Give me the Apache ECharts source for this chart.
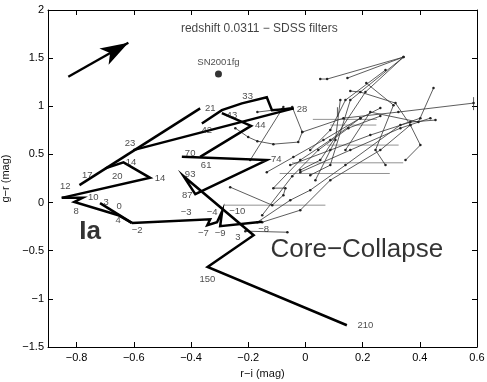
<!DOCTYPE html>
<html><head><meta charset="utf-8">
<script src="https://cdn.jsdelivr.net/npm/echarts@6/dist/echarts.min.js"></script>
<style>html,body{margin:0;padding:0;background:#fff}#c{width:487px;height:382px}</style>
</head><body><div id="c"></div>
<script>
// ---- axis ticks ----
const xTicks = [-0.8, -0.6, -0.4, -0.2, 0, 0.2, 0.4, 0.6];
const yTicks = [-1.5, -1, -0.5, 0, 0.5, 1, 1.5, 2];

// ---- Type Ia colour track pieces (r-i, g-r) ----
const iaPreMax = [[-0.607,-0.211],[-0.333,-0.173],[-0.343,-0.235],[-0.309,-0.204],[-0.291,-0.089],[-0.298,-0.245],[-0.151,-0.199]];
const iaEarly = [[-0.718,-0.006],[-0.607,-0.211]];
const iaZig = [[-0.852,0.049],[-0.779,0.049],[-0.808,0.007],[-0.654,-0.131],[-0.607,-0.211]];
const iaLoop = [[-0.852,0.049],[-0.543,0.257],[-0.636,0.417],[-0.700,0.355]];
const iaRise = [[-0.79,0.181],[-0.368,0.978]];
const iaRise2 = [[-0.602,0.545],[-0.041,0.978]];
const iaTop = [[-0.362,0.822],[-0.292,0.96],[-0.222,1.03],[-0.135,1.093],[-0.117,0.96],[-0.041,0.978]];
const iaMid = [[-0.292,0.93],[-0.19,0.797],[-0.368,0.475]];
const iaLate = [[-0.432,0.475],[-0.135,0.441],[-0.385,0.087],[-0.426,0.274],[-0.181,-0.339],[-0.342,-0.668],[0.145,-1.274]];

// ---- epoch labels on the Ia track ----
const epochText = ['12','17','20','14','14','23','21','10','3','0','8','4','\u22122','\u22123','\u22124','\u221210','\u22127','\u22129','3','\u22128','150','210','93','87','70','61','74','42','43','44','33','28'];
const epochX = [-0.84,-0.763,-0.658,-0.508,-0.61,-0.613,-0.333,-0.742,-0.697,-0.651,-0.802,-0.655,-0.588,-0.417,-0.326,-0.238,-0.357,-0.298,-0.236,-0.146,-0.343,0.21,-0.403,-0.413,-0.403,-0.347,-0.102,-0.345,-0.257,-0.158,-0.202,-0.012];
const epochY = [0.17,0.285,0.274,0.254,0.42,0.617,0.981,0.056,0.004,-0.037,-0.089,-0.183,-0.287,-0.1,-0.1,-0.089,-0.318,-0.318,-0.363,-0.277,-0.796,-1.274,0.295,0.077,0.514,0.389,0.451,0.753,0.909,0.805,1.099,0.968];

// ---- core-collapse tracks ----
const cc1 = [[0.052,1.283],[0.076,1.283],[0.343,1.511],[0.21,1.148],[0.052,0.441],[-0.018,0.337]];
const cc2 = [[0.147,1.293],[0.343,1.511],[0.157,1.064],[0.087,0.389],[0.017,0.285]];
const cc3 = [[0.157,1.158],[0.192,1.148],[0.315,1.033],[0.367,0.805],[0.402,0.597],[0.35,0.441]];
const cc4 = [[-0.245,0.773],[-0.2,0.68],[-0.168,0.638],[-0.112,0.607],[-0.025,0.628],[-0.011,0.732],[-0.046,0.992],[-0.081,0.971],[-0.168,0.94]];
const cc5 = [[-0.011,0.732],[0.133,0.877],[0.325,0.94],[0.588,1.033]];
const cc6 = [[-0.077,0.992],[-0.193,0.441]];
const cc7 = [[-0.135,0.316],[-0.042,0.472],[0.063,0.649],[0.192,0.877],[0.262,0.981]];
const cc8 = [[-0.263,0.16],[-0.116,-0.027],[-0.077,0.077],[-0.07,0.15],[-0.112,0.15],[-0.018,0.441],[0.087,0.649],[0.192,0.877]];
const cc9 = [[-0.168,-0.204],[-0.053,0.025],[0.017,0.129],[0.14,0.389],[0.332,0.805],[0.402,0.877]];
const cc10 = [[-0.151,-0.204],[-0.018,-0.079],[0.087,0.233],[0.262,0.545],[0.367,0.805]];
const cc11 = [[-0.21,-0.297],[-0.063,-0.308]];
const cc12 = [[0.122,1.064],[0.105,0.649],[0.035,0.233]];
const cc13 = [[0.213,1.241],[0.308,1.012],[0.245,0.545],[0.28,0.389]];
const cc14 = [[0.448,1.189],[0.395,0.836],[0.227,0.94],[0.14,0.545]];
const cc15 = [[-0.151,-0.131],[-0.046,0.274],[0.045,0.545],[0.15,0.773],[0.262,0.898]];
const cc16 = [[0.28,1.376],[0.14,1.064],[0.087,0.753],[0.017,0.545]];
const cc17 = [[-0.053,0.389],[0.087,0.545],[0.227,0.701],[0.367,0.836],[0.455,0.857]];
const cc18 = [[-0.018,0.316],[0.157,0.545],[0.332,0.773],[0.437,0.877]];
// horizontal error bars: [g-r, r-i low, r-i high]
const ccErrH = [[0.864,0.026,0.25],[0.805,0.087,0.248],[0.413,-0.047,0.342],[0.302,-0.09,0.295],[-0.027,-0.287,0.07],[0.597,0.075,0.326]];
// vertical error bars: [r-i, g-r low, g-r high]
const ccErrV = [[0.588,0.96,1.095],[0.112,0.888,0.99]];

// ---- annotations ----
const sn2001fg = [-0.304, 1.335];
const reddening = [[-0.829,1.307],[-0.619,1.66]];
const titleText = 'redshift 0.0311 \u2212 SDSS filters';
const titlePos = [-0.161, 1.802];
const iaText = 'Ia', iaPos = [-0.753, -0.308];
const ccText = 'Core\u2212Collapse', ccPos = [0.18, -0.495];

const FONT = '"Liberation Sans", Arial, Helvetica, sans-serif';
const fmt = v => { const s = String(Math.round(v*10)/10); return s.replace('-', '\u2212'); };

const series = [];
[cc1,cc2,cc3,cc4,cc5,cc6,cc7,cc8,cc9,cc10,cc11,cc12,cc13,cc14,cc15,cc16,cc17,cc18].forEach(t => series.push({
  type:'line', data:t, symbol:'circle', symbolSize:2.5, showSymbol:true,
  lineStyle:{width:0.8,color:'#333'}, itemStyle:{color:'#222'}, z:2, silent:true
}));
ccErrH.forEach(e => series.push({type:'line', data:[[e[1],e[0]],[e[2],e[0]]], showSymbol:false, lineStyle:{width:0.8,color:'#777'}, z:1}));
ccErrV.forEach(e => series.push({type:'line', data:[[e[0],e[1]],[e[0],e[2]]], showSymbol:false, lineStyle:{width:0.8,color:'#333'}, z:1}));
[iaPreMax,iaEarly,iaZig,iaLoop,iaRise,iaRise2,iaTop,iaMid,iaLate].forEach(t => series.push({
  type:'line', data:t, showSymbol:false, lineStyle:{width:2.5,color:'#000',join:'miter'}, z:3
}));
series.push({
  type:'scatter', symbolSize:1, itemStyle:{color:'rgba(0,0,0,0)'}, z:5,
  data: epochText.map((t,i)=>({name:t, value:[epochX[i],epochY[i]]})),
  label:{show:true, position:'inside', formatter:'{b}', fontSize:9.5, color:'#1a1a1a', fontFamily:FONT}
});
series.push({
  type:'scatter', symbolSize:7, itemStyle:{color:'#000'}, z:5,
  data:[{name:'SN2001fg', value:sn2001fg}],
  label:{show:true, position:'top', distance:3, formatter:'{b}', fontSize:9.5, color:'#1a1a1a', fontFamily:FONT}
});
series.push({
  type:'scatter', symbolSize:1, itemStyle:{color:'rgba(0,0,0,0)'}, z:5,
  data:[
    {name:titleText, value:titlePos, label:{fontSize:12, color:'#111'}},
    {name:iaText, value:iaPos, label:{fontSize:26, fontWeight:'bold', color:'#000'}},
    {name:ccText, value:ccPos, label:{fontSize:26, color:'#000'}}
  ],
  label:{show:true, position:'inside', formatter:'{b}', fontFamily:FONT}
});
series.push({
  type:'lines', coordinateSystem:'cartesian2d', z:4,
  data:[{coords:reddening}],
  symbol:['none','arrow'], symbolSize:[1,[14,28]],
  lineStyle:{width:2.4,color:'#000',opacity:1}
});

const axisCommon = {
  axisLine:{show:true, onZero:false, lineStyle:{color:'#000',width:1}},
  splitLine:{show:false}
};
const chart = echarts.init(document.getElementById('c'), null, {renderer:'canvas'});
chart.setOption({
  animation:false,
  backgroundColor:'#fff',
  textStyle:{fontFamily:FONT},
  grid:{left:48, right:10, top:10, bottom:35, containLabel:false, outerBoundsMode:'none'},
  xAxis:[
    Object.assign({type:'value', min:-0.9, max:0.6, position:'bottom',
      name:'r\u2212i (mag)', nameLocation:'middle', nameGap:21, nameTextStyle:{fontSize:11,color:'#111',fontFamily:FONT},
      axisTick:{show:true, inside:true, length:5, customValues:xTicks, lineStyle:{color:'#000'}},
      axisLabel:{show:true, customValues:xTicks, formatter:fmt, fontSize:11, color:'#000', margin:5, fontFamily:FONT}}, axisCommon),
    Object.assign({type:'value', min:-0.9, max:0.6, position:'top',
      axisTick:{show:true, inside:true, length:5, customValues:xTicks, lineStyle:{color:'#000'}},
      axisLabel:{show:false}}, axisCommon)
  ],
  yAxis:[
    Object.assign({type:'value', min:-1.5, max:2, interval:0.5, position:'left',
      name:'g\u2212r (mag)', nameLocation:'middle', nameGap:29, nameRotate:90, nameTextStyle:{fontSize:11,color:'#111',fontFamily:FONT},
      axisTick:{show:true, inside:true, length:5, lineStyle:{color:'#000'}},
      axisLabel:{show:true, formatter:fmt, fontSize:11, color:'#000', margin:4, fontFamily:FONT}}, axisCommon),
    Object.assign({type:'value', min:-1.5, max:2, interval:0.5, position:'right',
      axisTick:{show:true, inside:true, length:5, lineStyle:{color:'#000'}},
      axisLabel:{show:false}}, axisCommon)
  ],
  series: series
});
</script></body></html>
